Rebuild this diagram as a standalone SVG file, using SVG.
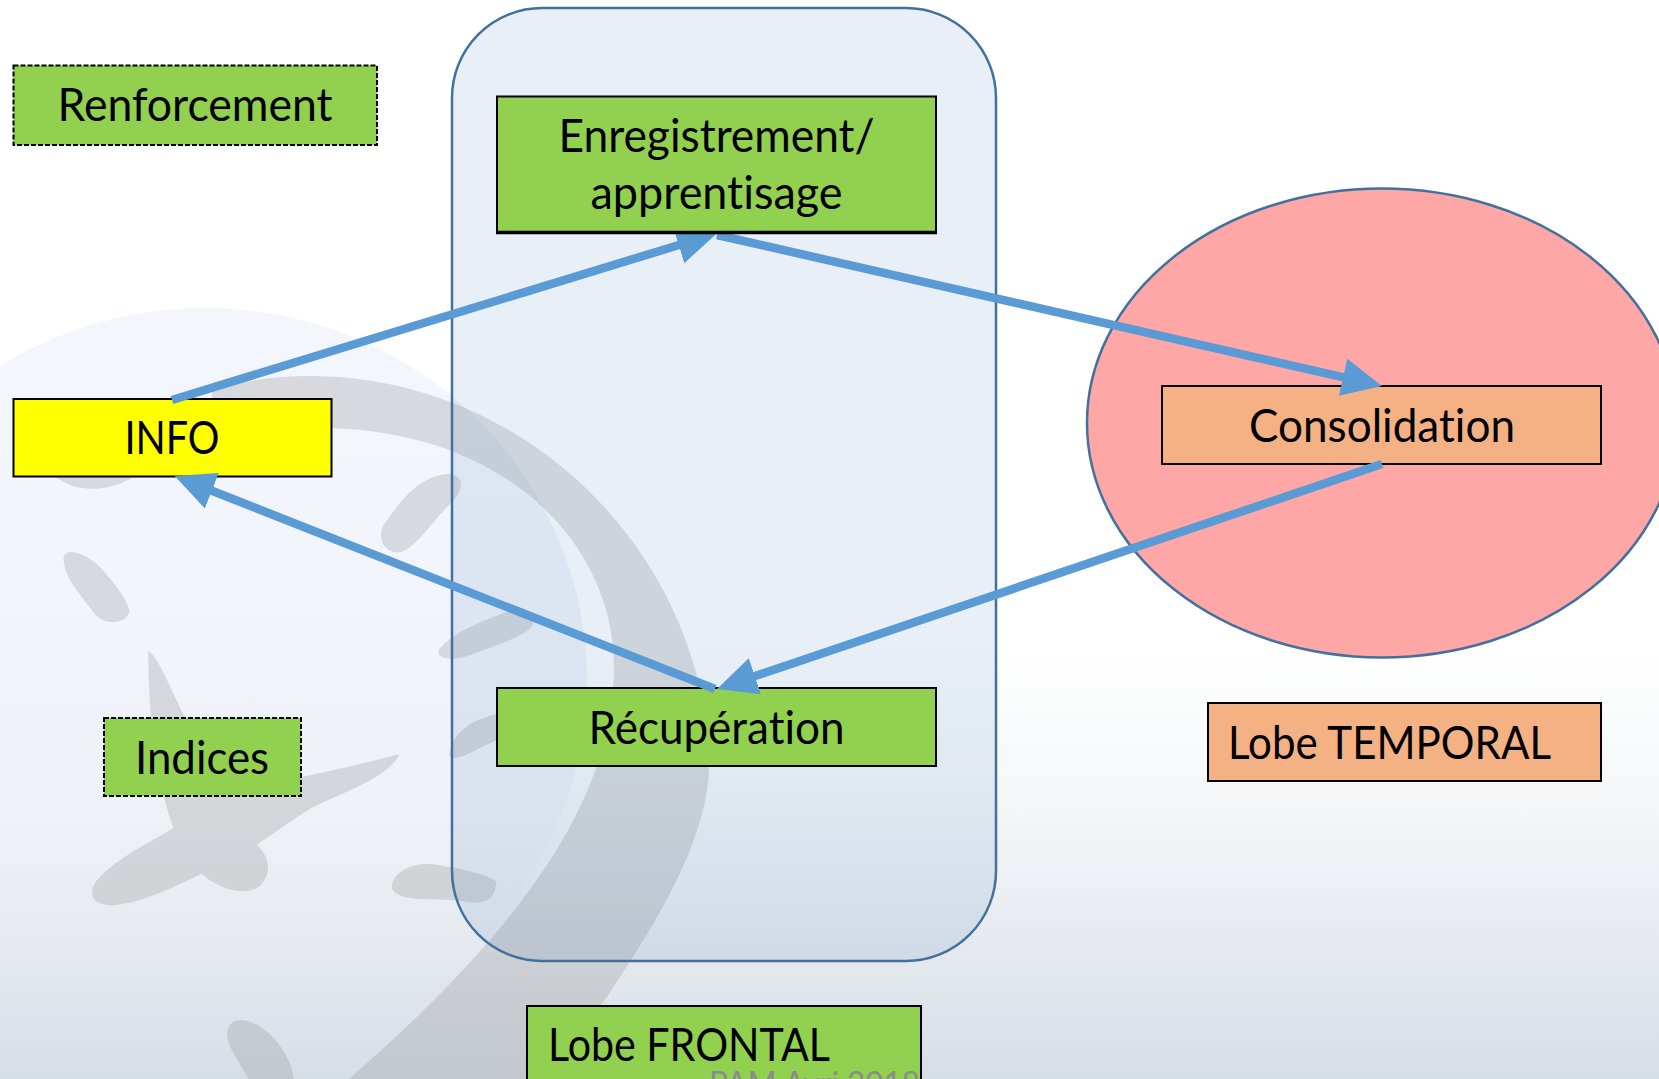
<svg xmlns="http://www.w3.org/2000/svg" width="1659" height="1079" viewBox="0 0 1659 1079">
<style>
text{font-family:"Lato","Carlito","Open Sans",sans-serif;font-size:46px;fill:#000;font-variant-ligatures:none}
.c{text-anchor:middle}
.b{stroke:#000;stroke-width:2}
.d{stroke:#000;stroke-width:2;stroke-dasharray:5 2}
.g{fill:#92d050}
.o{fill:#f4b183}
.land{fill:#8f9090;fill-opacity:.28}
.arrow{stroke:#5b9bd5;stroke-width:8.500;fill:none;marker-end:url(#head)}
</style>
<defs>
<linearGradient id="bg" x1="0" y1="0" x2="0" y2="1">
<stop offset="0" stop-color="#fff"/><stop offset=".6" stop-color="#fff"/><stop offset=".75" stop-color="#f4f6f8"/><stop offset=".88" stop-color="#e5e9ef"/><stop offset="1" stop-color="#d6dee6"/>
</linearGradient>
<linearGradient id="globe" x1="0" y1="0" x2="0" y2="1">
<stop offset="0" stop-color="#e2e8f7" stop-opacity=".4"/><stop offset=".5" stop-color="#dbe3f5" stop-opacity=".38"/><stop offset=".85" stop-color="#d0d9ea" stop-opacity="0"/>
</linearGradient>
<marker id="head" markerUnits="userSpaceOnUse" markerWidth="44" markerHeight="44" viewBox="0 -20 44 40" refX="2" refY="0" orient="auto">
<path d="M0,-19L40,0L0,19Z" fill="#5b9bd5"/>
</marker>
</defs>
<rect id="background" width="1659" height="1079" fill="url(#bg)"/>
<ellipse cx="205" cy="680" rx="382" ry="372" fill="url(#globe)"/>
<path class="land" d="M212,390C245,380 275,376 310,376C530,376 709,560 709,770C705,860 630,965 550,1079L349,1079C520,930 614,800 614,667C614,540 500,428 320,428L212,428Z"/>
<g transform="translate(0,280) scale(.5292,.5097)">
<path class="land" d="M105,385C130,410 190,425 255,385Z"/>
<path class="land" d="M725,480C760,430 790,385 850,380C880,385 875,415 850,440C820,470 790,520 760,533C730,540 710,510 725,480Z"/>
<path class="land" d="M120,545C125,520 170,540 195,570C220,600 250,640 243,655C230,680 190,675 175,650C155,620 120,585 120,545Z"/>
<path class="land" d="M830,725C850,695 910,670 960,650C990,640 1015,660 1005,680C990,700 940,715 890,735C860,748 820,745 830,725Z"/>
<path class="land" d="M850,925C860,880 900,860 945,850L945,900C910,915 880,935 860,938C850,938 848,935 850,925Z"/>
<path class="land" d="M280,728C298,735 325,810 352,862L570,975C640,960 700,945 755,930C735,975 660,1000 590,1035C550,1060 520,1085 485,1108C510,1130 515,1165 490,1190C465,1210 410,1195 382,1165C320,1195 260,1225 210,1227C170,1225 165,1200 185,1175C220,1135 280,1105 328,1075C300,1000 280,870 280,728Z"/>
<path class="land" d="M740,1190C745,1155 790,1140 830,1148C870,1155 920,1165 938,1180C935,1215 920,1225 880,1220C830,1210 745,1225 740,1190Z"/>
<path class="land" d="M430,1470C440,1440 480,1450 510,1480C540,1510 555,1550 555,1568L470,1568C450,1530 425,1500 430,1470Z"/>
</g>
<g id="lobe-frontal-zone"><rect x="452" y="8" width="544" height="953" rx="90" ry="90" fill="#4f81bd" fill-opacity=".13" stroke="#41719c" stroke-width="2.500"/></g>
<g id="lobe-temporal-zone"><ellipse cx="1382" cy="423" rx="295" ry="234.500" fill="#ffa6a6" stroke="#41719c" stroke-width="2.500"/></g>
<g id="renforcement"><rect class="g d" x="13.500" y="65.500" width="363.500" height="79.500"/><text class="c" x="195" y="121" textLength="275" lengthAdjust="spacingAndGlyphs">Renforcement</text></g>
<g id="info"><rect class="b" x="13.500" y="399" width="318" height="77.500" fill="#ff0"/><text class="c" x="172" y="454" textLength="95" lengthAdjust="spacingAndGlyphs">INFO</text></g>
<g id="indices"><rect class="g d" x="104" y="718" width="197" height="78"/><text class="c" x="202" y="774" textLength="134" lengthAdjust="spacingAndGlyphs">Indices</text></g>
<g id="recuperation"><rect class="g b" x="497" y="688" width="439" height="78"/><text class="c" x="716.500" y="744" textLength="256" lengthAdjust="spacingAndGlyphs">Récupération</text></g>
<g id="consolidation"><rect class="o b" x="1162" y="386" width="439" height="78"/><text class="c" x="1382" y="442" textLength="266" lengthAdjust="spacingAndGlyphs">Consolidation</text></g>
<g id="lobe-temporal"><rect class="o b" x="1208" y="703" width="393" height="78"/><text x="1228" y="759" textLength="323" lengthAdjust="spacingAndGlyphs">Lobe TEMPORAL</text></g>
<g id="lobe-frontal"><rect class="g b" x="527" y="1006" width="394" height="80"/><text x="548" y="1061" textLength="282" lengthAdjust="spacingAndGlyphs">Lobe FRONTAL</text></g>
<text x="709" y="1095" textLength="211" lengthAdjust="spacingAndGlyphs" style="font-size:32px;fill:#8b8b8b">PAM Avri 2018</text>
<g id="connectors">
<line class="arrow" x1="172" y1="400" x2="680.600" y2="244.500"/>
<line class="arrow" x1="717" y1="235" x2="1345" y2="377.600"/>
<line class="arrow" x1="1382" y1="464" x2="753" y2="676.800"/>
<line class="arrow" x1="715" y1="689" x2="210" y2="490"/>
</g>
<g id="enregistrement"><rect class="g" x="497" y="96.500" width="439" height="136"/><path d="M497,232.500V96.500H936V232.500" fill="none" class="b"/><path d="M496,232.500H937" stroke="#000" stroke-width="3.500"/><text class="c" x="716.500" y="152" textLength="316" lengthAdjust="spacingAndGlyphs">Enregistrement/</text><text class="c" x="716.500" y="209" textLength="252" lengthAdjust="spacingAndGlyphs">apprentisage</text></g>
</svg>
